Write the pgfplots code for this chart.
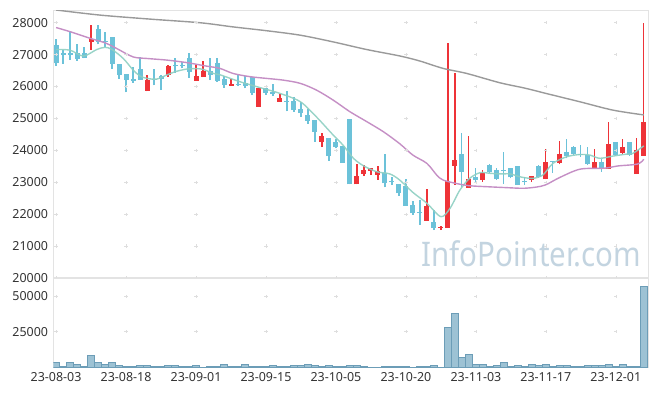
\documentclass[border=0pt]{standalone}
\usepackage{fontspec}
\setmainfont{Noto Sans}
\usepackage{pgfplots}
\usepackage{pgfplotstable}
\pgfplotsset{compat=1.18}

\definecolor{upred}{HTML}{EE3338}
\definecolor{dnblue}{HTML}{6CC2D9}
\definecolor{maA}{HTML}{8ECFC2}
\definecolor{maB}{HTML}{C58FC5}
\definecolor{maC}{HTML}{9A9A9A}
\definecolor{volfill}{HTML}{9DC2D4}
\definecolor{voledge}{HTML}{6C9DB7}
\definecolor{framec}{HTML}{E3E3E3}
\definecolor{wm}{HTML}{C3D4E0}
\definecolor{txt}{HTML}{333333}

\pgfplotstableread{
i O H L C
5 27400 27920 27160 27500
13 25870 26350 25850 26220
16 26360 26690 26310 26640
20 26180 26710 26180 26330
21 26310 26800 26290 26500
25 26025 26225 26010 26075
29 25370 25960 25370 25960
32 25520 25780 25520 25650
38 24270 24530 24110 24450
43 22930 23560 22930 23190
44 23260 23540 23190 23380
45 23360 23440 23220 23440
46 23230 23520 23070 23350
53 21790 22780 21790 22250
55 21560 21640 21500 21590
56 21570 27370 21570 23040
57 23520 26430 22910 23700
59 22830 24450 22830 23090
61 23070 23380 23020 23280
68 23070 23190 23020 23180
70 23090 24040 23090 23640
72 23610 24280 23560 23880
77 23410 24030 23410 23640
79 23410 24880 23410 24210
81 23930 24350 23890 24090
83 23250 24380 23250 24010
84 23830 27980 23830 24880
}\upT

\pgfplotstableread{
i O H L C
0 27300 27480 26650 26730
1 27040 27160 26720 27000
2 27050 27720 26830 27000
3 27040 27330 26810 26860
4 27060 27230 26880 26900
6 27800 27930 27320 27400
7 27430 27720 27250 27400
8 27540 27540 26560 26720
9 26720 26720 26250 26360
10 26390 26390 25820 26200
11 26230 26620 26120 26170
12 26540 26940 26200 26220
14 26240 26560 26040 26210
15 26320 26350 25890 26240
17 26660 26880 26430 26630
18 26660 26770 26570 26630
19 26880 27040 26280 26460
22 26480 26880 26200 26360
23 26740 26880 26150 26170
24 26230 26330 25970 26050
26 26080 26400 26010 26050
27 26100 26330 25940 26020
28 26290 26290 25730 25810
30 25960 25960 25750 25810
31 25840 26070 25700 25760
33 25560 25860 25220 25530
34 25540 25680 25210 25260
35 25300 25520 25050 25170
36 25100 25310 24840 24930
37 24950 24950 24270 24580
39 24380 24380 23670 23820
40 24250 24340 24060 24110
41 24130 24130 23610 23610
42 24980 24980 22930 22930
47 23280 23880 22840 22960
48 23040 23170 22910 23010
49 22940 22950 22570 22650
50 22880 23100 22270 22270
51 22290 22400 21980 22030
52 22060 22440 21660 22030
54 21760 22130 21500 21570
58 23880 24530 22860 23330
60 23170 23440 22970 23070
62 23540 23560 23280 23330
63 23380 23440 23070 23090
64 23380 23940 22940 23340
65 23450 23460 23120 23150
66 23510 23510 22910 22910
67 23040 23170 22910 23000
69 23510 23540 23140 23170
71 23660 23660 23300 23630
73 23960 24350 23750 23820
74 24100 24130 23850 23870
75 23890 24170 23800 23860
76 23850 24110 23540 23570
78 23640 23730 23330 23430
80 24260 24260 23830 23850
82 24260 24260 23830 23850
}\dnT

\pgfplotstableread{
i V
0 3500
1 600
2 3500
3 2100
4 600
5 8400
6 3500
7 2100
8 3500
9 1300
10 600
11 600
12 1300
13 1300
14 500
15 500
16 1300
17 1300
18 500
19 500
20 1300
21 200
22 500
23 500
24 2100
25 500
26 500
27 2100
28 500
29 500
30 500
31 1300
32 500
33 500
34 1300
35 1300
36 2100
37 1300
38 500
39 1300
40 700
41 700
42 1300
43 1300
44 500
45 100
46 100
47 500
48 500
49 500
50 500
51 100
52 500
53 500
54 1300
55 100
56 28100
57 37900
58 7000
59 9300
60 2100
61 2100
62 500
63 1300
64 3500
65 500
66 1300
67 500
68 2100
69 1300
70 2100
71 500
72 1300
73 1300
74 500
75 500
76 1300
77 1300
78 1300
79 2100
80 500
81 2100
82 500
83 500
84 57100
}\volT

\pgfplotsset{
  common/.style={
    scale only axis, width=594.7bp,
    xmin=-0.4, xmax=84.6,
    axis line style={draw=framec, line width=0.8bp},
    major tick length=0pt,
    tick label style={font=\fontsize{12.5}{14}\selectfont, text=txt, inner sep=0pt},
    /pgf/number format/.cd, 1000 sep={}, assume math mode=true,
    /pgfplots/.cd,
    scaled y ticks=false,
    yticklabel style={anchor=east, xshift=-5bp},
    xtick={0,10,...,80},
    clip=true,
  },
  plusgrid/.style={only marks, mark=+, mark size=1.6bp, color=black!13, mark options={line width=0.6bp}, forget plot},
  candle/.style 2 args={draw=none, mark=none, forget plot, error bars/.cd, y dir=plus, y explicit, error mark=none,
    error bar style={draw=#1, line width=#2}},
}

\begin{document}
\begin{tikzpicture}
\path[use as bounding box] (0,0) rectangle (657bp,396bp);

% price panel
\begin{axis}[common,
  at={(53.3bp,118.1bp)}, anchor=south west,
  height=267.9bp,
  ymin=20000, ymax=28400,
  ytick={20000,21000,...,28000},
  xticklabels={},
]
\pgfplotsinvokeforeach{20000,21000,22000,23000,24000,25000,26000,27000,28000}{
  \addplot[plusgrid] coordinates {(0,#1)(10,#1)(20,#1)(30,#1)(40,#1)(50,#1)(60,#1)(70,#1)(80,#1)};
}
\node[anchor=base west, inner sep=0pt, text=wm, font=\fontsize{34}{34}\selectfont, xscale=0.87]
  at (axis cs:52.2,20350) {InfoPointer.com};

% wicks
\addplot[candle={upred}{1.2bp}]
  table[x=i, y=L, y error expr=\thisrow{H}-\thisrow{L}] {\upT};
\addplot[candle={dnblue}{1.2bp}]
  table[x=i, y=L, y error expr=\thisrow{H}-\thisrow{L}] {\dnT};
% bodies
\addplot[candle={upred}{5bp}]
  table[x=i, y=O, y error expr=\thisrow{C}-\thisrow{O}] {\upT};
\addplot[candle={dnblue}{5bp}]
  table[x=i, y=C, y error expr=\thisrow{O}-\thisrow{C}] {\dnT};

% moving averages
\addplot[maA, line width=1.4bp, smooth, opacity=0.9] coordinates {
(0,27160)(2,27140)(3.9,26955)(5.8,27160)(7,27230)(8,27160)(9.6,26880)(11,26520)(12,26330)(13,26255)(14.4,26235)(15.8,26360)(17,26465)(18.7,26550)(20,26560)(21,26540)(22.5,26410)(23.4,26370)(26.3,26150)(29.1,25970)(32,25785)(34.9,25525)(37.2,25050)(39.6,24480)(41,24165)(42.5,23750)(43.9,23520)(45.8,23330)(47.7,23260)(49.1,23070)(51,22680)(53,22340)(55,21920)(56.3,22180)(57.7,22750)(59.1,23120)(60.6,23300)(62,23280)(63.4,23260)(64.9,23260)(66.3,23170)(68.1,23120)(69.6,23230)(71,23590)(73,23800)(74.9,23870)(76.3,23850)(77.7,23750)(79.6,23820)(81.5,23880)(82.4,23900)(84,24140)};
\addplot[maB, line width=1.4bp, smooth] coordinates {
(0,27850)(2,27720)(4.9,27510)(7,27370)(8.6,27200)(11,26930)(13,26880)(15.8,26830)(18.7,26750)(21.5,26640)(23.4,26570)(25.3,26410)(27.7,26310)(30.1,26255)(32.5,26200)(34.9,26100)(37.2,25890)(39.6,25575)(42,25210)(44.4,24900)(46.8,24580)(49.1,24210)(51,23850)(53,23590)(54.4,23225)(55.3,23070)(57.2,22960)(59.1,22890)(61.5,22860)(64.4,22830)(66.8,22810)(68.7,22850)(70,22920)(72,23150)(74.9,23410)(78.4,23440)(80.3,23510)(83.1,23570)(84,23720)};
\addplot[maC, line width=1.4bp, smooth] coordinates {
(0,28400)(6.3,28240)(13.4,28115)(20.6,28000)(25.3,27870)(30.1,27750)(34.9,27610)(39.6,27400)(44.4,27160)(49.1,26960)(52,26800)(55.3,26570)(58.7,26410)(63.4,26120)(67,25950)(70.1,25780)(74.9,25520)(79.6,25260)(84,25110)};
\end{axis}

% volume panel
\begin{axis}[common,
  at={(53.3bp,28.7bp)}, anchor=south west,
  height=89.2bp,
  ymin=0, ymax=62650,
  ytick={25000,50000},
  xticklabels={23-08-03,23-08-18,23-09-01,23-09-15,23-10-05,23-10-20,23-11-03,23-11-17,23-12-01},
  xticklabel style={anchor=north, yshift=-4.5bp},
]
\pgfplotsinvokeforeach{25000,50000}{
  \addplot[plusgrid] coordinates {(0,#1)(10,#1)(20,#1)(30,#1)(40,#1)(50,#1)(60,#1)(70,#1)(80,#1)};
}
\addplot[ybar, bar width=7bp, fill=volfill, draw=voledge, line width=0.5bp] table[x=i, y=V] {\volT};
\end{axis}
\end{tikzpicture}
\end{document}
